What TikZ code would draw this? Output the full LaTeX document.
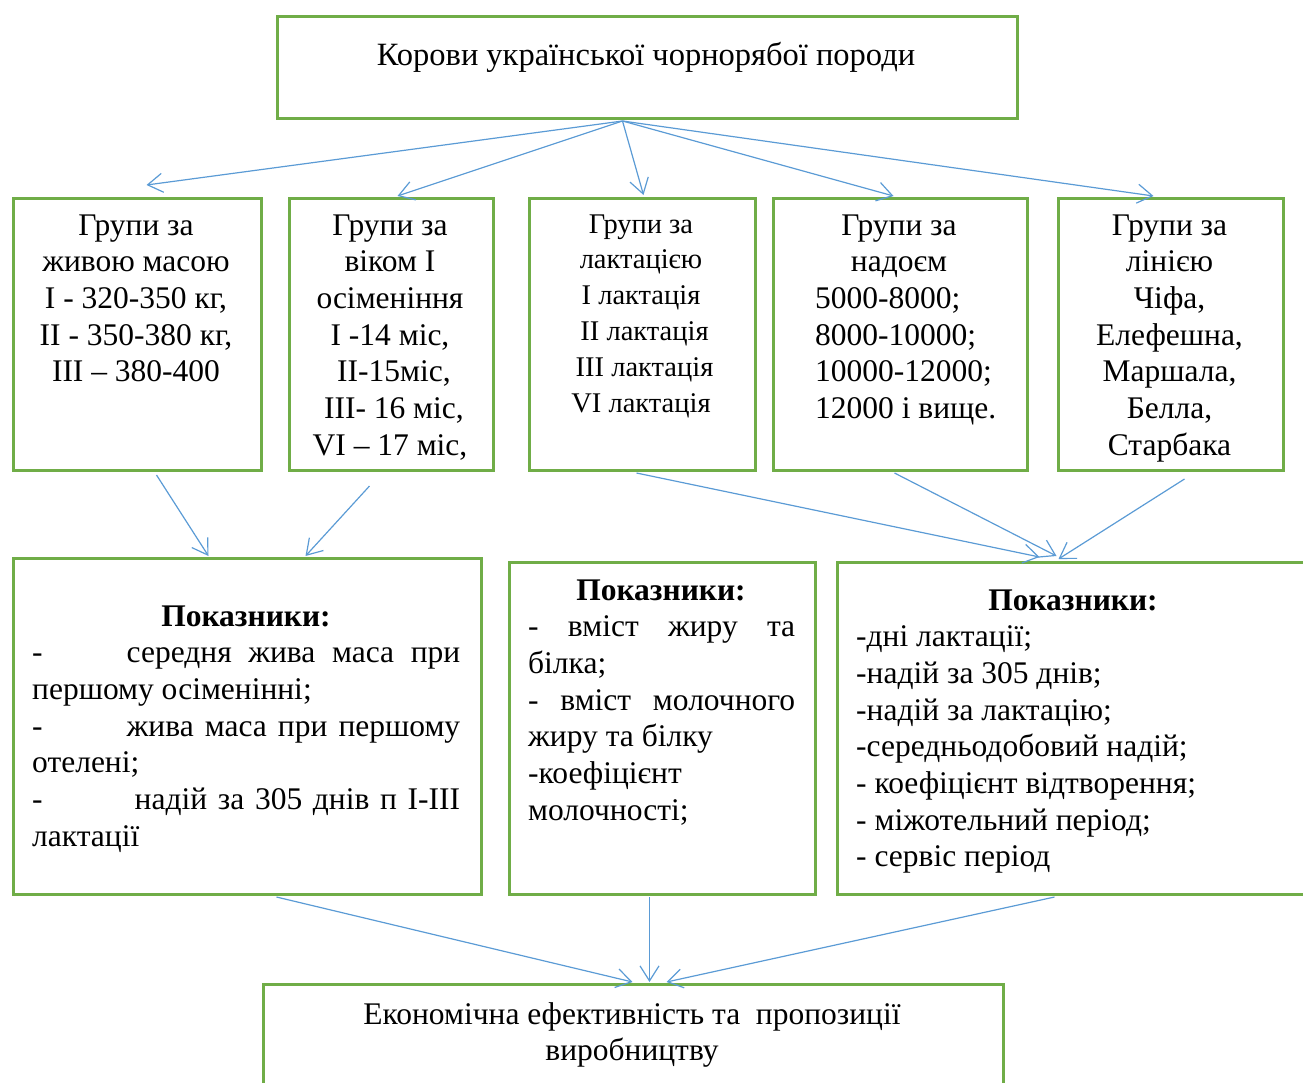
\documentclass[tikz,border=0pt]{standalone}
\usepackage{fontspec}
\setmainfont{Liberation Serif}
\usetikzlibrary{arrows.meta,calc}
\definecolor{boxgreen}{HTML}{70AD47}
\definecolor{arrowblue}{HTML}{5B9BD5}
\begin{document}
\begin{tikzpicture}[x=1pt,y=-1pt,
  box/.style={draw=boxgreen, line width=3pt, inner sep=0pt, anchor=north west},
  txt/.style={inner sep=0pt, align=center, font=\fontsize{31.5}{36.7}\selectfont},
  txtl/.style={inner sep=0pt, align=left, font=\fontsize{31.5}{36.7}\selectfont},
  arr/.style={draw=arrowblue, line width=1.2pt, -{Straight Barb[length=15pt,width=19pt]}}]
\useasboundingbox (0,0) rectangle (1303,1082);
% boxes
\node[box, minimum width=740, minimum height=102] (top) at (276,15) {};
\node[box, minimum width=248, minimum height=272] (b1) at (12,197) {};
\node[box, minimum width=204, minimum height=272] (b2) at (288,197) {};
\node[box, minimum width=226, minimum height=272] (b3) at (528,197) {};
\node[box, minimum width=254, minimum height=272] (b4) at (772,197) {};
\node[box, minimum width=225, minimum height=272] (b5) at (1057,197) {};
\node[box, minimum width=468, minimum height=336] (c1) at (12,557) {};
\node[box, minimum width=306, minimum height=332] (c2) at (508,561) {};
\node[box, minimum width=494, minimum height=332] (c3) at (836,561) {};
\node[box, minimum width=740, minimum height=130] (bot) at (262,983) {};
% texts (anchor base = baseline of the last line)
\node[txt, anchor=base, font=\fontsize{32.5}{37}\selectfont] (topt) at (646,65) {Корови української чорнорябої породи};
\node[txt, anchor=base] (b1t) at (136,381.8) {Групи за\\живою масою\\I - 320-350 кг,\\II - 350-380 кг,\\III – 380-400};
\node[txt, anchor=base] (b2t) at (390,455.2) {Групи за\\віком I\\осіменіння\\I -14 міс,\\\ II-15міс,\\\ III- 16 міс,\\VI – 17 міс,};
\node[txt, anchor=base, font=\fontsize{28.5}{35.8}\selectfont] (b3t) at (641,412) {Групи за\\лактацією\\I лактація\\\ II лактація\\\ III лактація\\VI лактація};
\node[txt, anchor=base] (b4t) at (899,271.7) {Групи за\\надоєм};
\node[txtl, anchor=base west] (b4l) at (815,418.5) {5000-8000;\\8000-10000;\\10000-12000;\\12000 і вище.};
\node[txt, anchor=base] (b5t) at (1169.5,455.2) {Групи за\\лінією\\Чіфа,\\Елефешна,\\Маршала,\\Белла,\\Старбака};
\node[txt, anchor=base] (c1h) at (246,626) {\bfseries Показники:};
\node[txtl, anchor=base west] (c1t) at (32,846.2) {%
\makebox[428pt][l]{-\hspace*{84pt}середня\hfill жива\hfill маса\hfill при}\\
першому осіменінні;\\
\makebox[428pt][l]{-\hspace*{84pt}жива\hfill маса\hfill при\hfill першому}\\
отелені;\\
\makebox[428pt][l]{-\hspace*{92pt}надій\hfill за\hfill 305\hfill днів\hfill п\hfill I-III}\\
лактації};
\node[txt, anchor=base] (c2h) at (661,600) {\bfseries Показники:};
\node[txtl, anchor=base west] (c2t) at (528,820.2) {%
\makebox[267pt][l]{-\hfill вміст\hfill жиру\hfill та}\\
білка;\\
\makebox[267pt][l]{-\hfill вміст\hfill молочного}\\
жиру та білку\\
-коефіцієнт\\
молочності;};
\node[txt, anchor=base] (c3h) at (1073,610) {\bfseries Показники:};
\node[txtl, anchor=base west] (c3t) at (856,866.9) {-дні лактації;\\-надій за 305 днів;\\-надій за лактацію;\\-середньодобовий надій;\\- коефіцієнт відтворення;\\- міжотельний період;\\- сервіс період};
\node[txt, anchor=base] (bott) at (632,1060.7) {Економічна ефективність та\ \ пропозиції\\виробництву};
% arrows
\draw[arr] ([shift={(-25,1)}]top.south) -- ([shift={(9,-12)}]b1.north);
\draw[arr] ([shift={(-25,1)}]top.south) -- ([shift={(6,-1)}]b2.north);
\draw[arr] ([shift={(-25,1)}]top.south) -- ([shift={(1,-2)}]b3.north);
\draw[arr] ([shift={(-25,1)}]top.south) -- ([shift={(-7,-1)}]b4.north);
\draw[arr] ([shift={(-25,1)}]top.south) -- ([shift={(-17.5,-1)}]b5.north);
\draw[arr] ([shift={(19,3)}]b1.south) -- ([shift={(-39,-1)}]c1.north);
\draw[arr] ([shift={(-22,14)}]b2.south) -- ([shift={(58,-1)}]c1.north);
\draw[arr] ([shift={(-6,1)}]b3.south) -- ([shift={(-45,-4)}]c3.north);
\draw[arr] ([shift={(-6,1)}]b4.south) -- ([shift={(-28,-5)}]c3.north);
\draw[arr] ([shift={(13.5,7)}]b5.south) -- ([shift={(-26,-2)}]c3.north);
\draw[arr] ([shift={(29,1)}]c1.south) -- ([shift={(-1,-1)}]bot.north);
\draw[arr] ([shift={(-13,1)}]c2.south) -- ([shift={(16,-1)}]bot.north);
\draw[arr] ([shift={(-30,1)}]c3.south) -- ([shift={(33,-1)}]bot.north);
\end{tikzpicture}
\end{document}
